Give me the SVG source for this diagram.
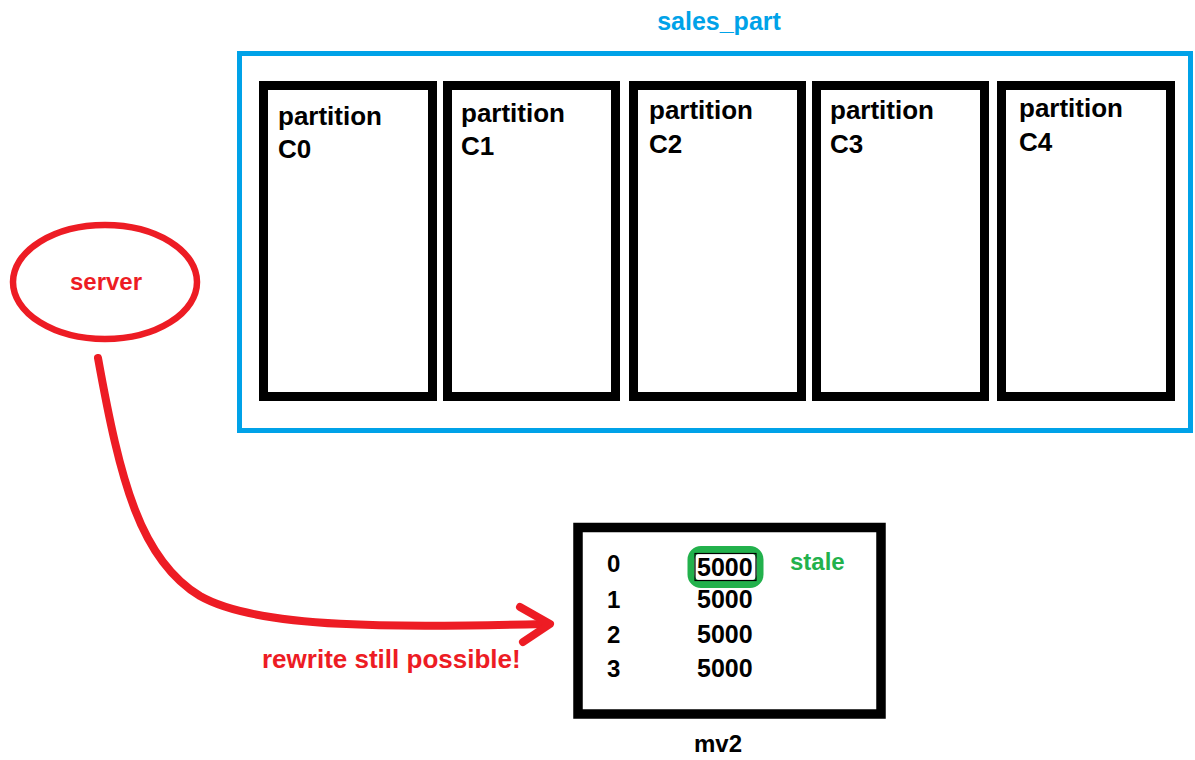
<svg xmlns="http://www.w3.org/2000/svg" width="1195" height="760" viewBox="0 0 1195 760">
<style>
.part{fill:#fff;stroke:#000;stroke-width:9}
.pt{font-family:"Liberation Sans",Arial,sans-serif;font-weight:bold;font-size:26px;fill:#000}
.t{font-family:"Liberation Sans",Arial,sans-serif;font-weight:bold;font-size:24px}
.red{fill:#ED1C24}
.blk{fill:#000}
.grn{fill:#22B14C}
</style>
<rect width="1195" height="760" fill="#fff"/>
<g id="sales_part">
<rect x="239.5" y="53.5" width="951" height="377" fill="none" stroke="#00A2E8" stroke-width="5"/>
<text x="719" y="30" text-anchor="middle" class="t" style="fill:#00A2E8;font-size:25px">sales_part</text>
</g>
<g id="C0">
<rect class="part" x="263.5" y="85.5" width="169" height="311"/>
<text class="pt" x="278" y="125">partition</text><text class="pt" x="278" y="158">C0</text>
</g>
<g id="C1">
<rect class="part" x="447.5" y="85.5" width="168" height="311"/>
<text class="pt" x="461" y="122">partition</text><text class="pt" x="461" y="155">C1</text>
</g>
<g id="C2">
<rect class="part" x="633.5" y="85.5" width="168" height="311"/>
<text class="pt" x="649" y="119">partition</text><text class="pt" x="649" y="153">C2</text>
</g>
<g id="C3">
<rect class="part" x="816.5" y="85.5" width="168" height="311"/>
<text class="pt" x="830" y="119">partition</text><text class="pt" x="830" y="153">C3</text>
</g>
<g id="C4">
<rect class="part" x="1001.5" y="85.5" width="169" height="311"/>
<text class="pt" x="1019" y="117">partition</text><text class="pt" x="1019" y="151">C4</text>
</g>
<g id="server">
<ellipse cx="105" cy="282" rx="92" ry="57" fill="none" stroke="#ED1C24" stroke-width="6.5"/>
<text x="106" y="290" text-anchor="middle" class="t red">server</text>
</g>
<g id="mv2">
<rect x="578" y="527.5" width="303" height="186.5" fill="#fff" stroke="#000" stroke-width="9.5"/>
<text class="t blk" x="607" y="572">0</text>
<text class="t blk" x="607" y="608">1</text>
<text class="t blk" x="607" y="643">2</text>
<text class="t blk" x="607" y="677">3</text>
<rect x="691" y="549.5" width="69" height="35" rx="10" fill="none" stroke="#22B14C" stroke-width="7"/>
<rect x="695" y="553.5" width="61" height="27" fill="none" stroke="#000" stroke-width="1.2"/>
<text class="t blk" x="697" y="576" style="font-size:25px">5000</text>
<text class="t blk" x="697" y="608" style="font-size:25px">5000</text>
<text class="t blk" x="697" y="643" style="font-size:25px">5000</text>
<text class="t blk" x="697" y="677" style="font-size:25px">5000</text>
<text class="t grn" x="790" y="570">stale</text>
<text class="t blk" x="718" y="752" text-anchor="middle">mv2</text>
</g>
<g id="connectors" fill="none" stroke="#ED1C24" stroke-width="8" stroke-linecap="round" stroke-linejoin="round">
<path d="M98,358 C120,480 140,560 200,596 C260,630 400,627 546,624"/>
<polyline points="520,607 550,624 523,642"/>
</g>
<text x="262" y="668" class="t red" style="font-size:26px">rewrite still possible!</text>
</svg>
